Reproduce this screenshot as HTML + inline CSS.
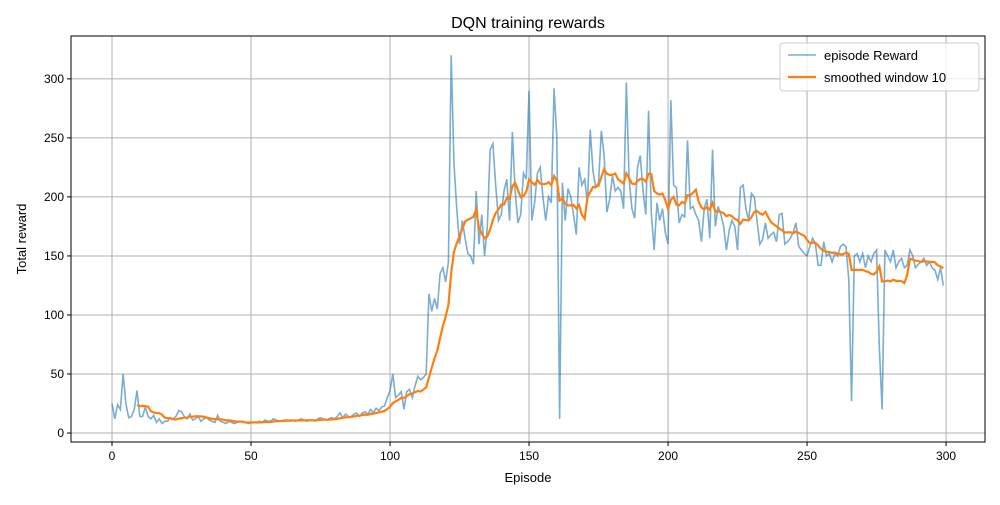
<!DOCTYPE html>
<html><head><meta charset="utf-8"><style>
body{margin:0;background:#fff;font-family:"Liberation Sans",sans-serif}
svg text{font-family:"Liberation Sans",sans-serif;fill:#000}
</style></head><body>
<svg id="c" width="1000" height="500"></svg>
<script>
const rewards=[25,12,24,20,50,25,13,14,20,36,14,14,22,14,12,15,9,12,8,10,10,13,12,14,19,18,14,12,16,11,12,14,10,12,13,11,10,9,15,10,9,8,10,9,8,9,10,9,9,8,9,9,9,10,9,11,10,10,12,11,10,10,11,11,10,11,10,11,12,11,10,11,11,10,12,13,12,11,12,13,12,14,17,13,16,14,14,16,17,14,17,18,16,20,17,21,19,22,23,30,36,50,30,32,35,20,35,37,30,40,48,45,47,50,118,103,114,105,135,140,128,145,320,228,190,160,180,165,152,150,143,205,160,185,150,175,240,245,210,180,185,205,215,180,255,205,178,185,220,215,290,180,195,220,225,200,180,200,195,292,250,12,212,180,207,200,185,168,225,210,215,195,257,222,208,212,256,235,187,198,218,205,208,205,190,297,215,190,182,225,235,205,185,273,185,155,195,180,190,170,160,282,210,208,178,185,183,248,190,192,185,180,162,190,198,165,240,175,192,185,175,155,172,180,175,155,208,210,190,180,203,200,180,160,164,178,165,168,170,162,185,186,160,162,165,170,178,158,155,152,150,158,165,160,142,142,162,150,152,145,152,150,158,160,158,130,27,150,152,145,152,140,150,145,152,155,72,20,155,150,145,155,140,145,148,140,142,155,150,140,143,145,148,142,145,140,138,130,140,125];
const xTicks=[0,50,100,150,200,250,300];
const yTicks=[0,50,100,150,200,250,300];
const windowSize=10;
const L=71,R=985,T=36,B=442;
const xMin=-14.75,xMax=314.0,yMin=-7.6,yMax=336.3;
const X=v=>L+(v-xMin)/(xMax-xMin)*(R-L);
const Y=v=>B-(v-yMin)/(yMax-yMin)*(B-T);
const ns="http://www.w3.org/2000/svg",svg=document.getElementById('c');
function mk(t,a,p){const e=document.createElementNS(ns,t);for(const k in a)e.setAttribute(k,a[k]);(p||svg).appendChild(e);return e;}
xTicks.forEach(v=>{
const g=mk('line',{x1:X(v),x2:X(v),y1:T,y2:B,stroke:'#b0b0b0','stroke-width':1});


mk('line',{x1:X(v),x2:X(v),y1:B,y2:B+4,stroke:'#000'});
const t=mk('text',{x:X(v),y:B+18,'text-anchor':'middle','font-size':12});t.textContent=v;


});
yTicks.forEach(v=>{
const g=mk('line',{x1:L,x2:R,y1:Y(v),y2:Y(v),stroke:'#b0b0b0','stroke-width':1});


mk('line',{x1:L-4,x2:L,y1:Y(v),y2:Y(v),stroke:'#000'});
const t=mk('text',{x:L-7,y:Y(v)+4,'text-anchor':'end','font-size':12});t.textContent=v;


});
const raw=mk('polyline',{points:rewards.map((v,i)=>X(i)+','+Y(v)).join(' '),fill:'none',stroke:'#1f77b4','stroke-opacity':0.6,'stroke-width':1.6});


const sm=[];for(let i=windowSize-1;i<rewards.length;i++){let s=0;for(let j=i-windowSize+1;j<=i;j++)s+=rewards[j];sm.push([i,s/windowSize]);}
const sl=mk('polyline',{points:sm.map(p=>X(p[0])+','+Y(p[1])).join(' '),fill:'none',stroke:'#ff7f0e','stroke-width':2.2});


const fr=mk('rect',{x:L,y:T,width:R-L,height:B-T,fill:'none',stroke:'#000','stroke-width':1});


let t=mk('text',{x:(L+R)/2,y:28,'text-anchor':'middle','font-size':16});t.textContent='DQN training rewards';


t=mk('text',{x:(L+R)/2,y:482,'text-anchor':'middle','font-size':13});t.textContent='Episode';


t=mk('text',{x:26,y:(T+B)/2,'text-anchor':'middle','font-size':13,transform:`rotate(-90 26 ${(T+B)/2})`});t.textContent='Total reward';


const lg=mk('g',{});


mk('rect',{x:780,y:43,width:199,height:48,rx:3,fill:'#fff','fill-opacity':0.8,stroke:'#ccc'},lg);
mk('line',{x1:788,x2:816,y1:55,y2:55,stroke:'#1f77b4','stroke-opacity':0.6,'stroke-width':1.6},lg);
mk('line',{x1:788,x2:816,y1:77,y2:77,stroke:'#ff7f0e','stroke-width':2.2},lg);
t=mk('text',{x:824,y:60,'font-size':13},lg);t.textContent='episode Reward';


t=mk('text',{x:824,y:82,'font-size':13},lg);t.textContent='smoothed window 10';


</script>
</body></html>
